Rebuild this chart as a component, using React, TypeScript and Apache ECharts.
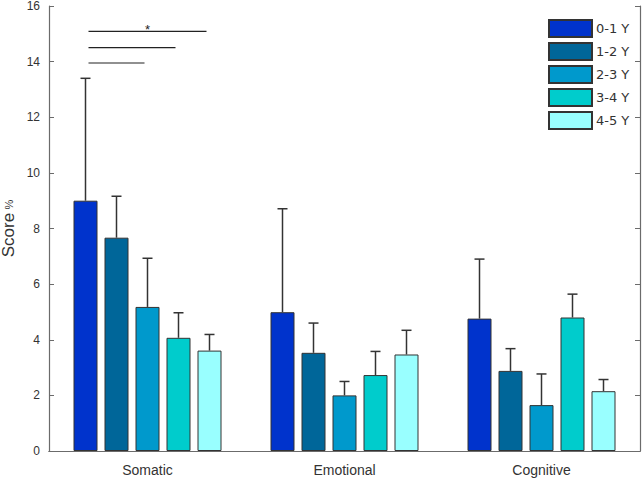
import React, { useEffect, useRef } from "react";
import * as echarts from "echarts";

const categories = ["Somatic", "Emotional", "Cognitive"];
const groupNames = ["0-1 Y", "1-2 Y", "2-3 Y", "3-4 Y", "4-5 Y"];
const groupColors = ["#0033CC", "#006699", "#0099CC", "#00CCCC", "#99FFFF"];
// mean values per age group (Somatic, Emotional, Cognitive)
const means = [
  [9.0, 4.99, 4.76],
  [7.67, 3.53, 2.88],
  [5.18, 2.0, 1.65],
  [4.07, 2.73, 4.8],
  [3.61, 3.47, 2.15],
];
// upper end of error bars
const uppers = [
  [13.4, 8.71, 6.9],
  [9.16, 4.6, 3.68],
  [6.93, 2.5, 2.77],
  [4.97, 3.58, 5.64],
  [4.19, 4.34, 2.57],
];
// significance brackets: [category index, from group, to group, y value, label]
const sigLines: [number, number, number, number, string][] = [
  [0, 0, 2, 13.95, ""],
  [0, 0, 3, 14.5, ""],
  [0, 0, 4, 15.09, "*"],
];
const yTicks = [0, 2, 4, 6, 8, 10, 12, 14, 16];

const BAR_W = 24;
const BAR_GAP = 7;
const offsetOf = (g: number) => (g - 2) * (BAR_W + BAR_GAP);

export default function App() {
  const ref = useRef<HTMLDivElement>(null);
  useEffect(() => {
    if (!ref.current) return;
    const chart = echarts.init(ref.current, undefined, { renderer: "svg" });
    const axisColor = "#6b6b6b";
    const textColor = "#333";
    const font = "'Liberation Sans', Arial, sans-serif";

    const barSeries = groupNames.map((name, g) => ({
      name,
      type: "bar",
      xAxisIndex: 0,
      yAxisIndex: 0,
      barWidth: BAR_W,
      barGap: `${(BAR_GAP / BAR_W) * 100}%`,
      data: means[g],
      itemStyle: { color: groupColors[g], borderColor: "#333", borderWidth: 1 },
      z: 2,
    }));

    const errSeries = groupNames.map((_, g) => ({
      type: "custom",
      xAxisIndex: 0,
      yAxisIndex: 0,
      z: 1,
      silent: true,
      data: categories.map((_c, ci) => [ci, means[g][ci], uppers[g][ci]]),
      renderItem: (params: any, api: any) => {
        const ci = api.value(0);
        const lo = api.coord([ci, api.value(1)]);
        const hi = api.coord([ci, api.value(2)]);
        const x = lo[0] + offsetOf(g);
        const cap = 5;
        const st = { stroke: "#333", lineWidth: 1.5 };
        return {
          type: "group",
          children: [
            { type: "line", shape: { x1: x, y1: lo[1], x2: x, y2: hi[1] }, style: st },
            { type: "line", shape: { x1: x - cap, y1: hi[1], x2: x + cap, y2: hi[1] }, style: st },
          ],
        };
      },
    }));

    const sigSeries = {
      type: "custom",
      xAxisIndex: 0,
      yAxisIndex: 0,
      z: 3,
      silent: true,
      data: sigLines.map((s) => [s[0], s[1], s[2], s[3]]),
      renderItem: (params: any, api: any) => {
        const ci = api.value(0);
        const p = api.coord([ci, api.value(3)]);
        const x1 = p[0] + offsetOf(api.value(1)) + 3;
        const x2 = p[0] + offsetOf(api.value(2)) - 3;
        const label = sigLines[params.dataIndex][4];
        const children: any[] = [
          { type: "line", shape: { x1, y1: p[1], x2, y2: p[1] }, style: { stroke: "#222", lineWidth: 1.2 } },
        ];
        if (label) {
          children.push({
            type: "text",
            style: {
              text: label,
              x: (x1 + x2) / 2,
              y: p[1] - 2,
              align: "center",
              verticalAlign: "middle",
              fill: "#222",
              font: `13px ${font}`,
            },
          });
        }
        return { type: "group", children };
      },
    };

    chart.setOption({
      animation: false,
      backgroundColor: "#fff",
      grid: { left: 49, right: 4, top: 6, bottom: 31, containLabel: false, outerBoundsMode: "none" },
      legend: {
        data: groupNames,
        orient: "vertical",
        left: 548,
        top: 19,
        itemWidth: 43,
        itemHeight: 17,
        itemGap: 4,
        textStyle: { fontFamily: "'DejaVu Sans', Verdana, sans-serif", fontSize: 13, color: textColor, padding: [0, 0, 0, -1] },
        icon: "rect",
        padding: 0,
      },
      xAxis: [
        {
          type: "category",
          data: categories,
          position: "bottom",
          axisLine: { lineStyle: { color: axisColor, width: 1.2 } },
          axisTick: { inside: true, alignWithLabel: true, length: 4, lineStyle: { color: axisColor } },
          axisLabel: { color: textColor, fontFamily: font, fontSize: 14, margin: 12 },
          splitLine: { show: false },
        },
        {
          type: "category",
          data: categories,
          position: "top",
          axisLine: { lineStyle: { color: axisColor, width: 1.2 } },
          axisTick: { inside: true, alignWithLabel: true, length: 4, lineStyle: { color: axisColor } },
          axisLabel: { show: false },
          splitLine: { show: false },
        },
      ],
      yAxis: [
        {
          type: "value",
          min: yTicks[0],
          max: yTicks[yTicks.length - 1],
          interval: 2,
          position: "left",
          name: "{a|Score} {b|%}",
          nameLocation: "middle",
          nameGap: 32,
          nameMoveOverlap: false,
          nameRotate: 90,
          nameTextStyle: {
            rich: {
              a: { fontFamily: font, fontSize: 17, color: textColor },
              b: { fontFamily: font, fontSize: 11, color: textColor },
            },
          },
          axisLine: { show: true, lineStyle: { color: axisColor, width: 1.2 } },
          axisTick: { show: true, inside: true, length: 5, lineStyle: { color: axisColor } },
          axisLabel: { color: textColor, fontFamily: font, fontSize: 12, margin: 9 },
          splitLine: { show: false },
        },
        {
          type: "value",
          min: yTicks[0],
          max: yTicks[yTicks.length - 1],
          interval: 2,
          position: "right",
          axisLine: { show: true, lineStyle: { color: axisColor, width: 1.2 } },
          axisTick: { show: true, inside: true, length: 5, lineStyle: { color: axisColor } },
          axisLabel: { show: false },
          splitLine: { show: false },
        },
      ],
      series: [...barSeries, ...errSeries, sigSeries],
    });
    return () => chart.dispose();
  }, []);
  return (
    <div
      ref={ref}
      style={{ position: "fixed", left: 0, top: 0, width: 644, height: 482 }}
    />
  );
}
